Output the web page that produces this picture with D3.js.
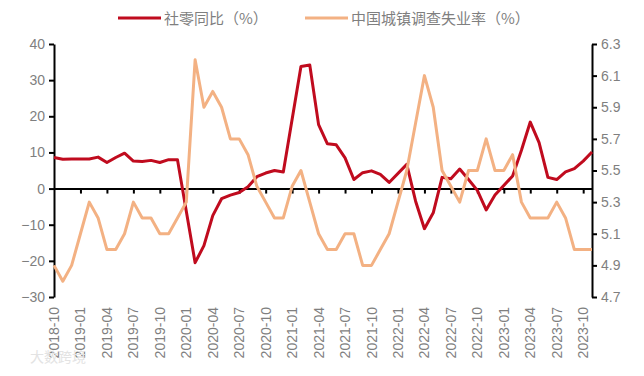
<!DOCTYPE html>
<html>
<head>
<meta charset="utf-8">
<script src="https://cdn.jsdelivr.net/npm/d3@7"></script>
<style>
  body { margin: 0; background: #fff; }
  #chart text { fill: #7f7f7f; }
</style>
</head>
<body>
<div id="chart"></div>
<script>
"use strict";

// == DATA ==
var months = [
  "2018-10","2018-11","2018-12",
  "2019-01","2019-02","2019-03","2019-04","2019-05","2019-06","2019-07","2019-08","2019-09","2019-10","2019-11","2019-12",
  "2020-01","2020-02","2020-03","2020-04","2020-05","2020-06","2020-07","2020-08","2020-09","2020-10","2020-11","2020-12",
  "2021-01","2021-02","2021-03","2021-04","2021-05","2021-06","2021-07","2021-08","2021-09","2021-10","2021-11","2021-12",
  "2022-01","2022-02","2022-03","2022-04","2022-05","2022-06","2022-07","2022-08","2022-09","2022-10","2022-11","2022-12",
  "2023-01","2023-02","2023-03","2023-04","2023-05","2023-06","2023-07","2023-08","2023-09","2023-10","2023-11"
];

// retail sales yoy, january is merged into february (null = no point)
var retail = [
  8.6, 8.1, 8.2,
  null, 8.2, 8.7, 7.2, 8.6, 9.8, 7.6, 7.5, 7.8, 7.2, 8.0, 8.0,
  null, -20.5, -15.8, -7.5, -2.8, -1.8, -1.1, 0.5, 3.3, 4.3, 5.0, 4.6,
  null, 33.8, 34.2, 17.7, 12.4, 12.1, 8.5, 2.5, 4.4, 4.9, 3.9, 1.7,
  null, 6.7, -3.5, -11.1, -6.7, 3.1, 2.7, 5.4, 2.5, -0.5, -5.9, -1.8,
  null, 3.5, 10.6, 18.4, 12.7, 3.1, 2.5, 4.6, 5.5, 7.6, 10.1
];

var unemployment = [
  4.9, 4.8, 4.9,
  5.1, 5.3, 5.2, 5.0, 5.0, 5.1, 5.3, 5.2, 5.2, 5.1, 5.1, 5.2,
  5.3, 6.2, 5.9, 6.0, 5.9, 5.7, 5.7, 5.6, 5.4, 5.3, 5.2, 5.2,
  5.4, 5.5, 5.3, 5.1, 5.0, 5.0, 5.1, 5.1, 4.9, 4.9, 5.0, 5.1,
  5.3, 5.5, 5.8, 6.1, 5.9, 5.5, 5.4, 5.3, 5.5, 5.5, 5.7, 5.5,
  5.5, 5.6, 5.3, 5.2, 5.2, 5.2, 5.3, 5.2, 5.0, 5.0, 5.0
];

var leftTicks = [-30, -20, -10, 0, 10, 20, 30, 40];
var rightTicks = [4.7, 4.9, 5.1, 5.3, 5.5, 5.7, 5.9, 6.1, 6.3];
var xLabels = months.filter(function (m, i) { return i % 3 === 0; });

var seriesNames = ["社零同比（%）", "中国城镇调查失业率（%）"];
var red = "#c00b1e", orange = "#f3b183";

// == BOILERPLATE ==
var width = 644, height = 376;
var svg = d3.select("#chart")
            .append("svg")
            .attr("width", width)
            .attr("height", height);

var x = d3.scalePoint()
          .domain(months)
          .range([54, 592]);

var yLeft = d3.scaleLinear()
              .domain([-30, 40])
              .range([297, 44]);

var yRight = d3.scaleLinear()
               .domain([4.7, 6.3])
               .range([297, 44]);

var tickFont = "'Liberation Sans', Arial, sans-serif";

// left axis
var leftAxis = d3.axisLeft(yLeft)
                 .tickValues(leftTicks)
                 .tickSize(5)
                 .tickSizeOuter(0)
                 .tickPadding(4);
var gl = svg.append("g")
   .attr("transform", "translate(54,0)")
   .call(leftAxis);

// right axis
var rightAxis = d3.axisRight(yRight)
                  .tickValues(rightTicks)
                  .tickFormat(d3.format(".1f"))
                  .tickSize(5)
                  .tickSizeOuter(0)
                  .tickPadding(4);
var gr = svg.append("g")
   .attr("transform", "translate(592,0)")
   .call(rightAxis);

// x axis on the zero line, ticks only
var xAxis = d3.axisBottom(x)
              .tickValues(xLabels.slice(1))
              .tickFormat("")
              .tickSize(5)
              .tickSizeOuter(0);
var gx = svg.append("g")
   .attr("transform", "translate(0," + yLeft(0) + ")")
   .call(xAxis);

[gl, gr, gx].forEach(function (g) {
  g.selectAll("path, line").attr("stroke", "#000").attr("stroke-width", 2);
  g.selectAll("text").style("font-family", tickFont).style("font-size", "14px");
});

// rotated month labels at the bottom
svg.append("g")
   .selectAll("text")
   .data(xLabels)
   .enter()
   .append("text")
   .attr("transform", function (d) {
     return "translate(" + (x(d) + 5) + ",307) rotate(-90)";
   })
   .attr("text-anchor", "end")
   .style("font-family", tickFont)
   .style("font-size", "14px")
   .text(function (d) { return d; });

// == LINES ==
var lineLeft = d3.line()
                 .x(function (d) { return x(d.m); })
                 .y(function (d) { return yLeft(d.v); });

var lineRight = d3.line()
                  .x(function (d) { return x(d.m); })
                  .y(function (d) { return yRight(d.v); });

var retailPts = months.map(function (m, i) { return { m: m, v: retail[i] }; })
                      .filter(function (d) { return d.v !== null; });
var unempPts = months.map(function (m, i) { return { m: m, v: unemployment[i] }; });

svg.append("path")
   .datum(retailPts)
   .attr("d", lineLeft)
   .attr("fill", "none")
   .attr("stroke", red)
   .attr("stroke-width", 3)
   .attr("stroke-linejoin", "round");

svg.append("path")
   .datum(unempPts)
   .attr("d", lineRight)
   .attr("fill", "none")
   .attr("stroke", orange)
   .attr("stroke-width", 3)
   .attr("stroke-linejoin", "round");

// == LEGEND ==
var legend = [
  { name: seriesNames[0], color: red, x: 118 },
  { name: seriesNames[1], color: orange, x: 305 }
];
var lg = svg.append("g");
legend.forEach(function (l) {
  lg.append("line")
    .attr("x1", l.x).attr("x2", l.x + 43)
    .attr("y1", 18).attr("y2", 18)
    .attr("stroke", l.color)
    .attr("stroke-width", 3);
  lg.append("text")
    .attr("x", l.x + 46)
    .attr("y", 23.5)
    .style("font-family", "'Noto Sans CJK SC', sans-serif")
    .style("font-size", "15px")
    .text(l.name);
});

// watermark
svg.append("text")
   .attr("x", 30)
   .attr("y", 362)
   .style("font-family", "'Noto Sans CJK SC', sans-serif")
   .style("font-size", "14px")
   .style("fill", "#e3e3e3")
   .text("大数跨境");
</script>
</body>
</html>
